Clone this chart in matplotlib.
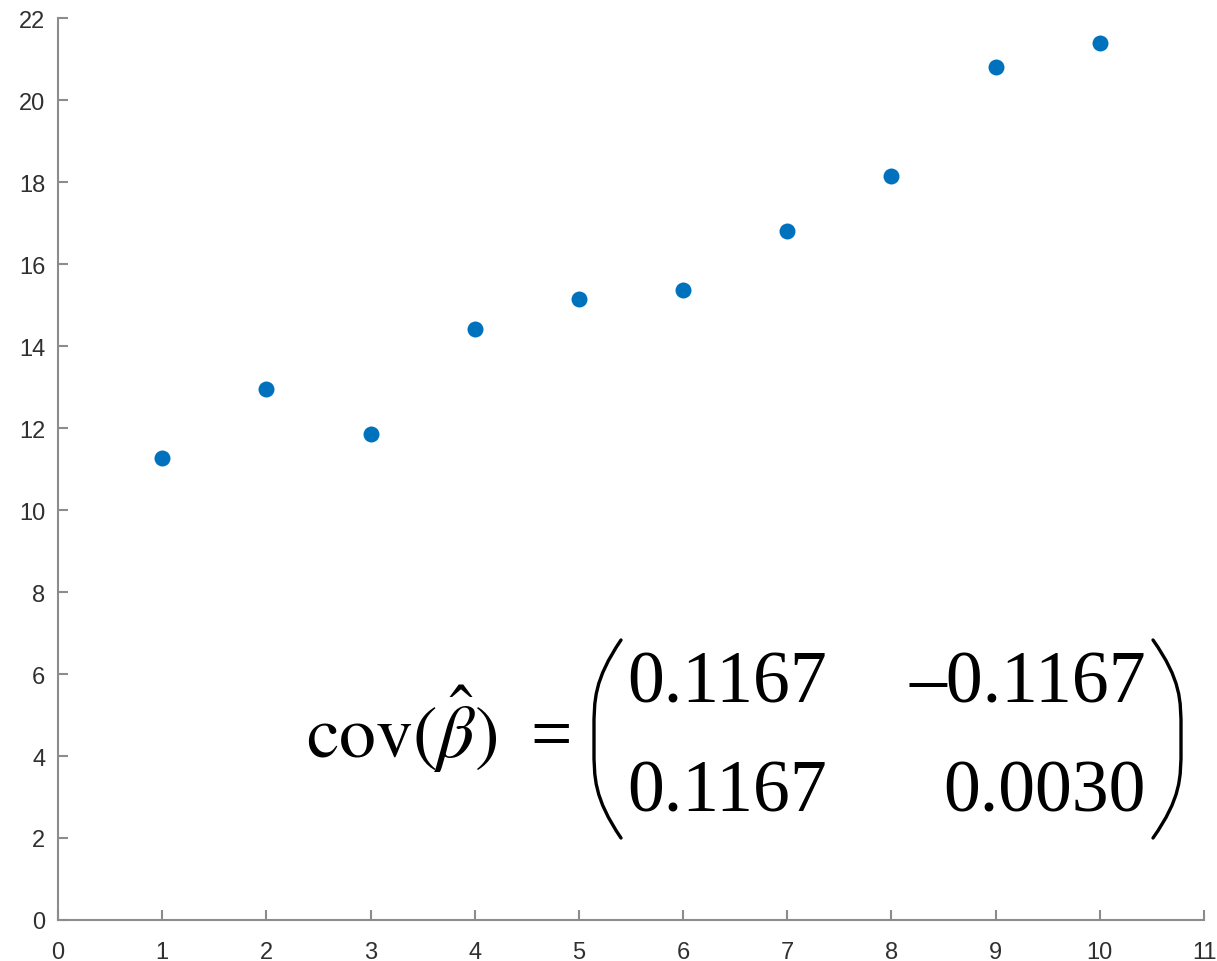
import matplotlib
matplotlib.use("Agg")
import matplotlib.pyplot as plt
from matplotlib.path import Path
from matplotlib.patches import PathPatch

# Data
x_vals = [1, 2, 3, 4, 5, 6, 7, 8, 9, 10]
y_vals = [11.27, 12.95, 11.85, 14.41, 15.15, 15.37, 16.80, 18.15, 20.80, 21.39]
x_ticks = list(range(0, 12))
y_ticks = list(range(0, 23, 2))
cov_matrix = [["0.1167", "\u20130.1167"], ["0.1167", "0.0030"]]

W, H = 1217, 962
DPI = 100
fig = plt.figure(figsize=(W / DPI, H / DPI), dpi=DPI)

def fx(px):
    return px / W

def fy(py):
    return 1 - py / H

ax = fig.add_axes([fx(58), fy(921), fx(1204) - fx(58), fy(19) - fy(921)])
ax.plot(x_vals, y_vals, 'o', color='#0072BD', ms=11.5, mec='none')
ax.set_xlim(0, 11)
ax.set_ylim(0, 22)
ax.set_xticks(x_ticks)
ax.set_yticks(y_ticks)

spine_c = '#8c8c8c'
for s in ['top', 'right']:
    ax.spines[s].set_visible(False)
for s in ['left', 'bottom']:
    ax.spines[s].set_color(spine_c)
    ax.spines[s].set_linewidth(1.5)
ax.tick_params(direction='in', length=7.5, width=1.5, color=spine_c,
               labelcolor='#303030', labelsize=17)
ax.tick_params(axis='y', pad=9)
ax.tick_params(axis='x', pad=15)
for lab in ax.get_xticklabels() + ax.get_yticklabels():
    lab.set_fontfamily('Liberation Sans')

# Annotation: covariance matrix
plt.rcParams['mathtext.fontset'] = 'stix'
fs = 53
serif = 'Liberation Serif'
fig.text(fx(306), fy(758), r'$\mathrm{cov}(\hat{\beta})$', fontsize=fs,
         ha='left', va='baseline', family=serif)
fig.text(fx(530), fy(758), '=', fontsize=fs, ha='left', va='baseline',
         family=serif)
fig.text(fx(627), fy(703), cov_matrix[0][0], fontsize=fs, ha='left',
         va='baseline', family=serif)
fig.text(fx(1146), fy(703), cov_matrix[0][1], fontsize=fs, ha='right',
         va='baseline', family=serif)
fig.text(fx(627), fy(812), cov_matrix[1][0], fontsize=fs, ha='left',
         va='baseline', family=serif)
fig.text(fx(1146), fy(812), cov_matrix[1][1], fontsize=fs, ha='right',
         va='baseline', family=serif)

def paren(x_end, x_mid, y_top, y_bot):
    verts = [(x_end, y_top),
             (x_mid, y_top + 40), (x_mid, y_top + 60), (x_mid, y_top + 90),
             (x_mid, y_bot - 90),
             (x_mid, y_bot - 60), (x_mid, y_bot - 40), (x_end, y_bot)]
    codes = [Path.MOVETO, Path.CURVE4, Path.CURVE4, Path.CURVE4,
             Path.LINETO, Path.CURVE4, Path.CURVE4, Path.CURVE4]
    v = [(fx(a), fy(b)) for a, b in verts]
    p = PathPatch(Path(v, codes), transform=fig.transFigure, fill=False,
                  lw=2.4, color='black', capstyle='round')
    fig.add_artist(p)

paren(621, 594, 641, 839)
paren(1153, 1181, 641, 839)

fig.savefig('out.png', dpi=DPI)
